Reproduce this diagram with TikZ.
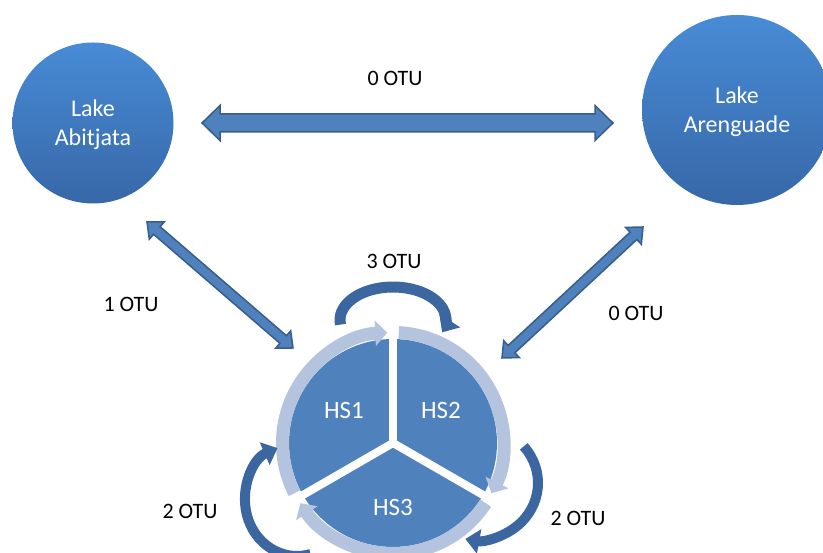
\documentclass[tikz,border=0pt]{standalone}
\usepackage{fontspec}
\setmainfont{Carlito}
\usetikzlibrary{calc,arrows.meta}
\definecolor{segcol}{RGB}{79,129,189}
\definecolor{edgecol}{RGB}{56,93,138}
\definecolor{ringcol}{RGB}{180,195,222}
\definecolor{curvcol}{RGB}{60,102,160}
\definecolor{laketop}{RGB}{72,139,214}
\definecolor{lakebot}{RGB}{55,104,168}
\newcommand\blockarrow[5]{%
  \coordinate (ba-h1) at ($(#1)!#5!(#2)$);
  \coordinate (ba-h2) at ($(#2)!#5!(#1)$);
  \filldraw[blockarr] (#1)
    -- ($(ba-h1)!#4!90:(#2)$) -- ($(ba-h1)!#3!90:(#2)$)
    -- ($(ba-h2)!#3!-90:(#1)$) -- ($(ba-h2)!#4!-90:(#1)$)
    -- (#2)
    -- ($(ba-h2)!#4!90:(#1)$) -- ($(ba-h2)!#3!90:(#1)$)
    -- ($(ba-h1)!#3!-90:(#2)$) -- ($(ba-h1)!#4!-90:(#2)$)
    -- cycle;}
\begin{document}
\begin{tikzpicture}[x=1pt,y=1pt,
  lake/.style={circle, inner sep=0pt, top color=laketop, bottom color=lakebot, draw=none,
    text=white, align=center, font=\fontsize{24}{29}\selectfont},
  blockarr/.style={fill=segcol, draw=edgecol, line width=1.5pt, line join=miter},
  ringarc/.style={ringcol, line width=13pt, -{Triangle[width=25pt,length=12pt]}},
  spoke/.style={white, line width=8pt, line cap=round},
  curvarr/.style={curvcol, line width=11pt, -{Triangle[width=24pt,length=14pt]}},
  otu/.style={font=\fontsize{22}{26}\selectfont, text=black, inner sep=0pt},
  hslab/.style={font=\fontsize{25}{28}\selectfont, text=white, inner sep=0pt}]
\useasboundingbox (0,0) rectangle (823,553);
% lakes
\node[lake, minimum size=161pt, text depth=-4pt] (abi) at (93,430) {Lake\\Abitjata};
\node[lake, minimum size=190pt, text depth=-4pt] (are) at (737,443) {Lake\\Arenguade};
% block arrow ends
\coordinate (t1a) at (202,430);
\coordinate (t1b) at (613,430);
\coordinate (t2a) at (147,331);
\coordinate (t2b) at (293,205);
\coordinate (t3a) at (643,326);
\coordinate (t3b) at (502,195);
\blockarrow{t1a}{t1b}{9pt}{17.5pt}{18pt}
\blockarrow{t2a}{t2b}{5pt}{11.5pt}{13pt}
\blockarrow{t3a}{t3b}{5pt}{11.5pt}{13pt}
% cycle
\node[circle, minimum size=208pt, inner sep=0pt, fill=segcol] (cyc) at (393,110) {};
\draw[spoke] (cyc.center) -- ++(90:126pt);
\draw[spoke] (cyc.center) -- ++(210:126pt);
\draw[spoke] (cyc.center) -- ++(330:126pt);
\draw[ringarc] ($(cyc.center)+(207:110.5pt)$) arc[start angle=207, end angle=93, radius=110.5pt];
\draw[ringarc] ($(cyc.center)+(87:110.5pt)$) arc[start angle=87, end angle=-27, radius=110.5pt];
\draw[ringarc] ($(cyc.center)+(-33:110.5pt)$) arc[start angle=-33, end angle=-147, radius=110.5pt];
% curved arrows
\coordinate (c3) at (393,233);
\coordinate (cl) at (297,53);
\coordinate (cr) at (477,70);
\draw[curvarr] ($(c3)+(188:53pt and 33pt)$) arc[start angle=188, end angle=-22, x radius=53pt, y radius=33pt];
\draw[curvarr, line width=10pt] ($(cl)+(-75:52pt and 56pt)$) arc[start angle=-75, end angle=-248, x radius=52pt, y radius=56pt];
\draw[curvarr, line width=10pt] ($(cr)+(40:61pt and 57pt)$) arc[start angle=40, end angle=-101, x radius=61pt, y radius=57pt];
% labels
\node[hslab] (hs1) at (344,143) {HS1};
\node[hslab] (hs2) at (441,143) {HS2};
\node[hslab] (hs3) at (393,46) {HS3};
\node[otu] (o1) at (395,475) {0 OTU};
\node[otu] (o2) at (394,292) {3 OTU};
\node[otu] (o3) at (131,249) {1 OTU};
\node[otu] (o4) at (636,240) {0 OTU};
\node[otu] (o5) at (190,42) {2 OTU};
\node[otu] (o6) at (578,35) {2 OTU};
\end{tikzpicture}
\end{document}
